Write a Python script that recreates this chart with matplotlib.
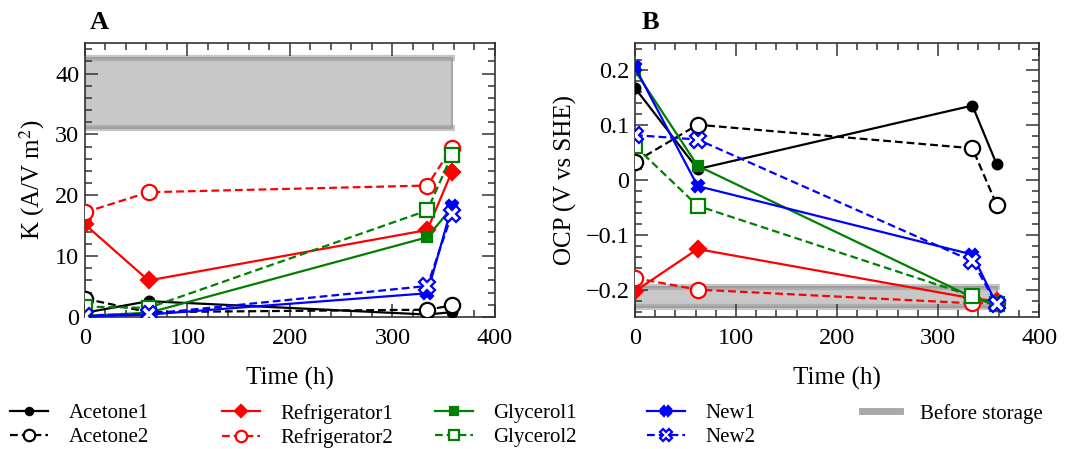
import matplotlib
matplotlib.use("Agg")
import matplotlib.pyplot as plt
from matplotlib.ticker import MultipleLocator, FuncFormatter

plt.rcParams['font.family'] = ['Liberation Serif', 'DejaVu Serif']
plt.rcParams['mathtext.fontset'] = 'stix'

# sampling times (h)
times = [0, 62, 334, 358]

# K (A/V m2), panel A
k_acetone1 = [0.7, 2.6, 0.4, 0.8]
k_acetone2 = [3.0, 0.8, 1.2, 1.9]
k_fridge1 = [15.2, 6.0, 14.3, 23.9]
k_fridge2 = [17.2, 20.5, 21.6, 27.8]
k_glycerol1 = [0.2, 0.7, 13.1, 18.0]
k_glycerol2 = [1.7, 1.5, 17.5, 26.6]
k_new1 = [0.1, 0.4, 3.9, 18.2]
k_new2 = [0.2, 0.5, 5.1, 16.9]
k_before = [31.0, 42.6]

# OCP (V vs SHE), panel B
ocp_acetone1 = [0.168, 0.020, 0.136, 0.029]
ocp_acetone2 = [0.033, 0.101, 0.058, -0.045]
ocp_fridge1 = [-0.203, -0.126, -0.216, -0.221]
ocp_fridge2 = [-0.179, -0.200, -0.225, -0.224]
ocp_glycerol1 = [0.200, 0.026, -0.214, -0.229]
ocp_glycerol2 = [0.062, -0.047, -0.212, -0.227]
ocp_new1 = [0.206, -0.011, -0.136, -0.227]
ocp_new2 = [0.082, 0.074, -0.148, -0.227]
ocp_before = [-0.231, -0.196]

labels = ['Acetone1', 'Acetone2', 'Refrigerator1', 'Refrigerator2',
          'Glycerol1', 'Glycerol2', 'New1', 'New2']

# (color, marker, linestyle, filled, markersize)
styles = [
    ('black', 'o', '-', True, 7),
    ('black', 'o', (0, (3.5, 1.8)), False, 11),
    ('red', 'D', '-', True, 8),
    ('red', 'o', (0, (3.5, 1.8)), False, 11),
    ('green', 's', '-', True, 7),
    ('green', 's', (0, (3.5, 1.8)), False, 10),
    ('blue', 'X', '-', True, 9),
    ('blue', 'X', (0, (3.5, 1.8)), False, 11),
]

k_series = [k_acetone1, k_acetone2, k_fridge1, k_fridge2,
            k_glycerol1, k_glycerol2, k_new1, k_new2]
ocp_series = [ocp_acetone1, ocp_acetone2, ocp_fridge1, ocp_fridge2,
              ocp_glycerol1, ocp_glycerol2, ocp_new1, ocp_new2]

fig = plt.figure(figsize=(10.69, 4.49), dpi=100)
axA = fig.add_axes([0.0795, 0.294, 0.3835, 0.610])
axB = fig.add_axes([0.594, 0.294, 0.378, 0.610])


def draw_band(ax, band):
    ax.fill_between([times[0], times[-1]], band[0], band[1],
                    facecolor='#c8c8c8', edgecolor='#a8a8a8', lw=1.5, zorder=1)
    for y in band:
        ax.plot([times[0], times[-1] + 3], [y, y], color='#999999',
                lw=4.5, alpha=0.55, solid_capstyle='butt', zorder=1.5)


def draw_series(ax, series):
    handles = []
    for vals, (c, m, ls, filled, ms) in zip(series, styles):
        h, = ax.plot(times, vals, color=c, marker=m, ls=ls, lw=1.6,
                     markersize=ms, markeredgewidth=1.6,
                     markerfacecolor=c if filled else 'white',
                     markeredgecolor=c, zorder=3)
        handles.append(h)
    return handles


def style_axes(ax):
    ax.set_xlim(0, 400)
    ax.xaxis.set_major_locator(MultipleLocator(100))
    ax.xaxis.set_minor_locator(MultipleLocator(20))
    ax.tick_params(which='both', direction='in', top=True, right=True,
                   labelsize=17.5, color='#333333')
    ax.tick_params(which='major', length=9.5, width=1.1)
    ax.tick_params(which='minor', length=5, width=1.1)
    ax.tick_params(axis='x', pad=8)
    ax.tick_params(axis='y', pad=4)
    for s in ax.spines.values():
        s.set_color('#333333')
        s.set_linewidth(1.2)
    ax.set_xlabel('Time (h)', fontsize=18, labelpad=13)


draw_band(axA, k_before)
handles = draw_series(axA, k_series)
style_axes(axA)
axA.set_ylim(0, 45)
axA.yaxis.set_major_locator(MultipleLocator(10))
axA.yaxis.set_minor_locator(MultipleLocator(2))
axA.set_ylabel('K (A/V m$^2$)', fontsize=18, labelpad=6)
axA.text(0.012, 1.035, 'A', transform=axA.transAxes, fontsize=19,
         fontweight='bold', va='bottom')

draw_band(axB, ocp_before)
draw_series(axB, ocp_series)
style_axes(axB)
axB.set_ylim(-0.25, 0.25)
axB.yaxis.set_major_locator(MultipleLocator(0.1))
axB.yaxis.set_minor_locator(MultipleLocator(0.02))
axB.yaxis.set_major_formatter(FuncFormatter(
    lambda v, p: ('%g' % round(v, 3)).replace('-', '\u2212')))
axB.set_ylabel('OCP (V vs SHE)', fontsize=18, labelpad=6)
axB.text(0.017, 1.035, 'B', transform=axB.transAxes, fontsize=19,
         fontweight='bold', va='bottom')

# legend: five fixed-width columns below the panels
band_handle, = axA.plot([], [], color='#aaaaaa', lw=5)
groups = [(handles[0:2], labels[0:2]), (handles[2:4], labels[2:4]),
          (handles[4:6], labels[4:6]), (handles[6:8], labels[6:8]),
          ([band_handle], ['Before storage'])]
col_x = [10, 222, 435, 647, 862]
for (hs, ls), x in zip(groups, col_x):
    fig.legend(hs, ls, loc='upper left', bbox_to_anchor=(x / 1069, 0.101),
               frameon=False, fontsize=15, markerscale=0.75,
               handlelength=1.8, handletextpad=1.0, labelspacing=0.22,
               borderpad=0, borderaxespad=0)

fig.savefig('out.png', dpi=100)
